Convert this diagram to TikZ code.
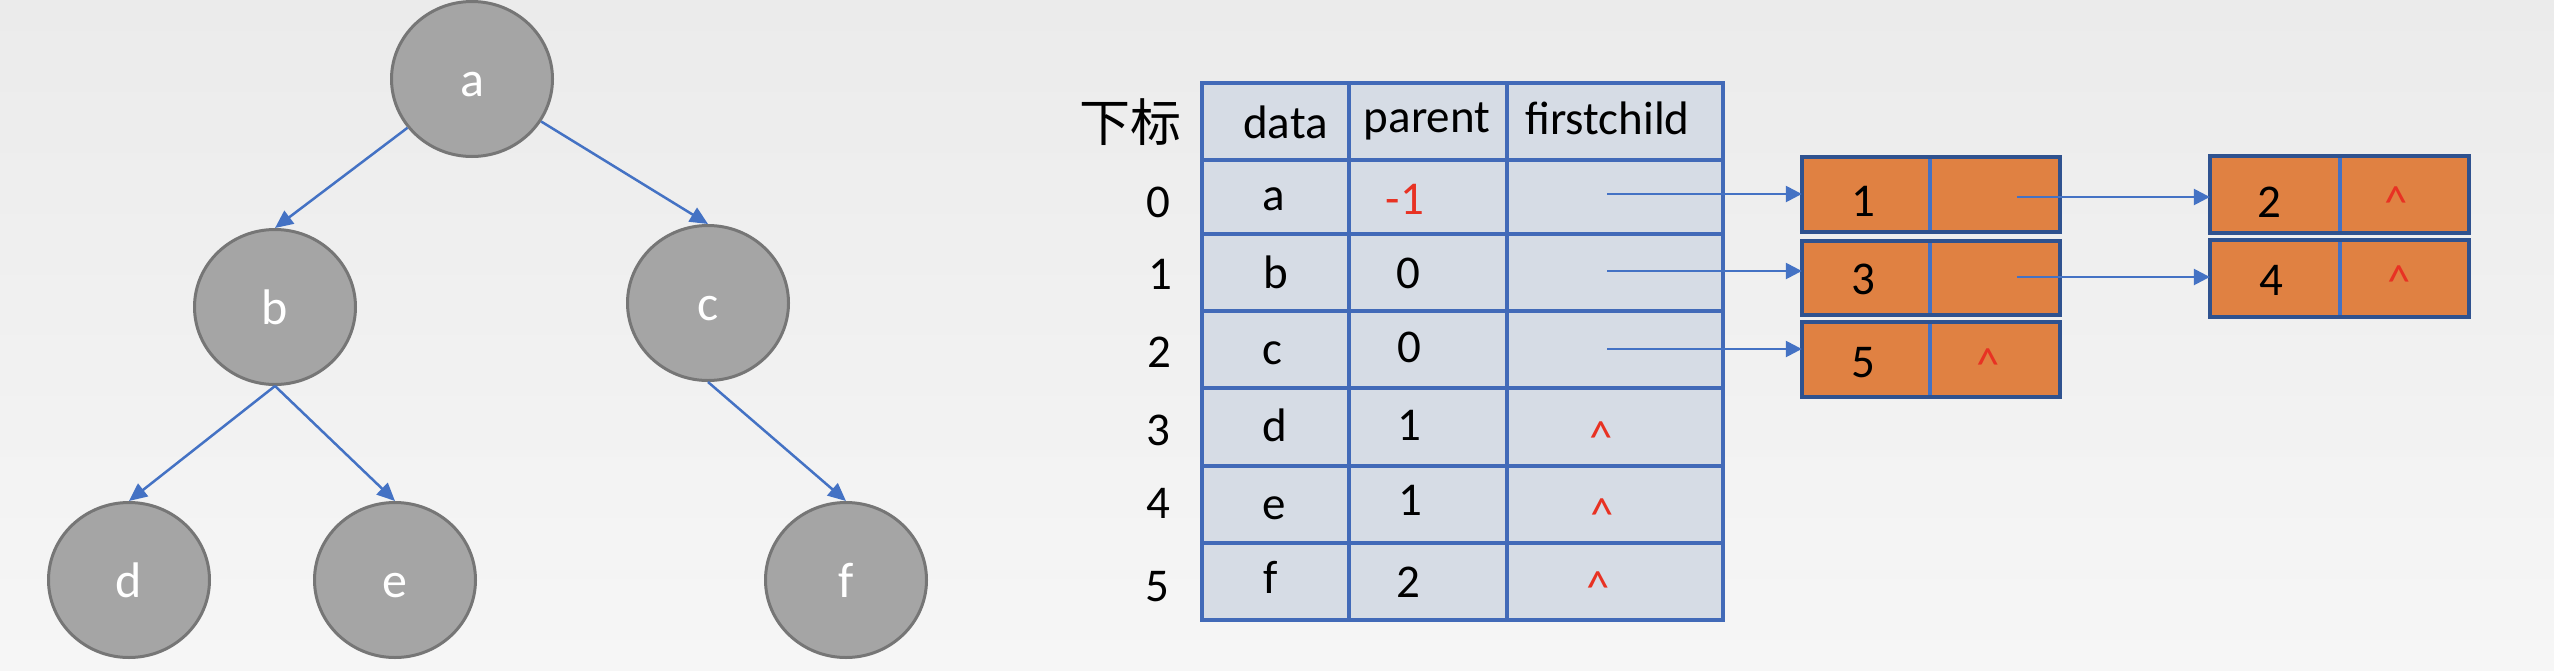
\documentclass[tikz,border=0pt]{standalone}
\usepackage{fontspec}
\setmainfont{Carlito}
\newfontfamily\cjk{Noto Sans CJK SC}
\usetikzlibrary{arrows.meta,shapes.geometric}

\definecolor{bgtop}{RGB}{235,235,235}
\definecolor{bgbot}{RGB}{246,246,246}
\definecolor{nodefill}{RGB}{165,165,165}
\definecolor{nodeline}{RGB}{118,118,118}
\definecolor{arrowblue}{RGB}{68,114,196}
\definecolor{cellfill}{RGB}{214,220,229}
\definecolor{gridblue}{RGB}{66,106,184}
\definecolor{boxorange}{RGB}{224,129,66}
\definecolor{boxline}{RGB}{47,82,143}
\definecolor{caretred}{RGB}{232,50,35}

\begin{document}
\begin{tikzpicture}[x=1pt,y=-1pt,
  treenode/.style={ellipse, draw=nodeline, line width=3pt, fill=nodefill,
    minimum width=161pt, minimum height=155pt, inner sep=0pt, text=white,
    font=\fontsize{50}{60}\selectfont, text height=35pt, text depth=0pt},
  treearrow/.style={draw=arrowblue, line width=2.5pt, -{Triangle[length=18pt,width=16pt]}},
  linkarrow/.style={draw=arrowblue, line width=2.5pt, -{Triangle[length=16pt,width=16pt]}},
  cell/.style={draw=gridblue, line width=4.5pt, fill=cellfill, inner sep=0pt},
  boxcell/.style={fill=boxorange, inner sep=0pt},
  boxborder/.style={draw=boxline, line width=4pt},
  boxsplit/.style={draw=arrowblue, line width=4.5pt},
  tx/.style={inner sep=0pt, anchor=base, font=\fontsize{47}{56}\selectfont},
  redtx/.style={tx, text=caretred},
  cjktx/.style={inner sep=0pt, anchor=base, font=\cjk\fontsize{51}{60}\selectfont}
]
% background
\shade[top color=bgtop, bottom color=bgbot] (0,0) rectangle (2554,670);
\useasboundingbox (0,0) rectangle (2554,670);

% ---------- tree ----------
\node[treenode] (na) at (472,79) {a};
\node[treenode] (nb) at (275,307) {b};
\node[treenode] (nc) at (708,303) {c};
\node[treenode] (nd) at (129,580) {d};
\node[treenode] (ne) at (395,580) {e};
\node[treenode] (nf) at (846,580) {f};
\draw[treearrow] (na) -- (nb.north);
\draw[treearrow] (na) -- (nc.north);
\draw[treearrow] (nb.south) -- (nd.north);
\draw[treearrow] (nb.south) -- (ne.north);
\draw[treearrow] (nc.south) -- (nf.north);

% ---------- table ----------
\node[cell, minimum width=147pt, minimum height=77pt] (ch1) at (1275.5,121.5) {};
\node[cell, minimum width=158pt, minimum height=77pt] (ch2) at (1428,121.5) {};
\node[cell, minimum width=216pt, minimum height=77pt] (ch3) at (1615,121.5) {};
\node[cell, minimum width=147pt, minimum height=74pt] (c01) at (1275.5,197) {};
\node[cell, minimum width=158pt, minimum height=74pt] (c02) at (1428,197) {};
\node[cell, minimum width=216pt, minimum height=74pt] (c03) at (1615,197) {};
\node[cell, minimum width=147pt, minimum height=77pt] (c11) at (1275.5,272.5) {};
\node[cell, minimum width=158pt, minimum height=77pt] (c12) at (1428,272.5) {};
\node[cell, minimum width=216pt, minimum height=77pt] (c13) at (1615,272.5) {};
\node[cell, minimum width=147pt, minimum height=77pt] (c21) at (1275.5,349.5) {};
\node[cell, minimum width=158pt, minimum height=77pt] (c22) at (1428,349.5) {};
\node[cell, minimum width=216pt, minimum height=77pt] (c23) at (1615,349.5) {};
\node[cell, minimum width=147pt, minimum height=78pt] (c31) at (1275.5,427) {};
\node[cell, minimum width=158pt, minimum height=78pt] (c32) at (1428,427) {};
\node[cell, minimum width=216pt, minimum height=78pt] (c33) at (1615,427) {};
\node[cell, minimum width=147pt, minimum height=77pt] (c41) at (1275.5,504.5) {};
\node[cell, minimum width=158pt, minimum height=77pt] (c42) at (1428,504.5) {};
\node[cell, minimum width=216pt, minimum height=77pt] (c43) at (1615,504.5) {};
\node[cell, minimum width=147pt, minimum height=77pt] (c51) at (1275.5,581.5) {};
\node[cell, minimum width=158pt, minimum height=77pt] (c52) at (1428,581.5) {};
\node[cell, minimum width=216pt, minimum height=77pt] (c53) at (1615,581.5) {};

% header texts
\node[cjktx] (hidx) at (1130.5,141) {下标};
\node[tx] (hdata) at (1285.5,138) {data};
\node[tx] (hparent) at (1427,132) {parent};
\node[tx] (hfirst) at (1607.5,134) {firstchild};

% index column
\node[tx] (i0) at (1158,217) {0};
\node[tx] (i1) at (1160,289) {1};
\node[tx] (i2) at (1159,367) {2};
\node[tx] (i3) at (1158,445) {3};
\node[tx] (i4) at (1158,518) {4};
\node[tx] (i5) at (1157,601) {5};

% data column
\node[tx] (d0) at (1274,210) {a};
\node[tx] (d1) at (1276,288) {b};
\node[tx] (d2) at (1272,364) {c};
\node[tx] (d3) at (1275,441) {d};
\node[tx] (d4) at (1274,519) {e};
\node[tx] (d5) at (1271,593) {f};

% parent column
\node[redtx] (p0t) at (1405,214) {-1};
\node[tx] (p1t) at (1408,288) {0};
\node[tx] (p2t) at (1409,362) {0};
\node[tx] (p3t) at (1409,440) {1};
\node[tx] (p4t) at (1410,515) {1};
\node[tx] (p5t) at (1408,597) {2};

% firstchild nulls
\node[redtx] (f3) at (1601,453) {\textasciicircum};
\node[redtx] (f4) at (1602,530) {\textasciicircum};
\node[redtx] (f5) at (1598,603) {\textasciicircum};

% ---------- child lists ----------
\node[boxcell, minimum width=128pt, minimum height=75pt] (b1L) at (1866,194.5) {};
\node[boxcell, minimum width=130pt, minimum height=75pt] (b1R) at (1995,194.5) {};
\node[boxcell, minimum width=128pt, minimum height=74pt] (b3L) at (1866,278) {};
\node[boxcell, minimum width=130pt, minimum height=74pt] (b3R) at (1995,278) {};
\node[boxcell, minimum width=128pt, minimum height=75pt] (b5L) at (1866,359.5) {};
\node[boxcell, minimum width=130pt, minimum height=75pt] (b5R) at (1995,359.5) {};
\node[boxcell, minimum width=130pt, minimum height=77pt] (r2L) at (2275,194.5) {};
\node[boxcell, minimum width=129pt, minimum height=77pt] (r2R) at (2404.5,194.5) {};
\node[boxcell, minimum width=130pt, minimum height=77pt] (r4L) at (2275,278.5) {};
\node[boxcell, minimum width=129pt, minimum height=77pt] (r4R) at (2404.5,278.5) {};

\foreach \bx in {b1,b3,b5,r2,r4}{
  \draw[boxsplit] (\bx L.north east) -- (\bx L.south east);
  \draw[boxborder] (\bx L.north west) rectangle (\bx R.south east);
}

\node[tx] (t1) at (1863,216) {1};
\node[tx] (t3) at (1863,294) {3};
\node[tx] (t5) at (1863,377) {5};
\node[redtx] (t5n) at (1988,380) {\textasciicircum};
\node[tx] (t2) at (2269,217) {2};
\node[tx] (t4) at (2271,295) {4};
\node[redtx] (t2n) at (2396,218) {\textasciicircum};
\node[redtx] (t4n) at (2399,297) {\textasciicircum};

% ---------- pointers ----------
\coordinate (s0) at (1607,194);
\coordinate (s1) at (1607,271);
\coordinate (s2) at (1607,349);
\coordinate (q1) at (2017,197);
\coordinate (q3) at (2017,277);
\draw[linkarrow] (s0) -- (s0 -| b1L.west);
\draw[linkarrow] (s1) -- (s1 -| b3L.west);
\draw[linkarrow] (s2) -- (s2 -| b5L.west);
\draw[linkarrow] (q1) -- (q1 -| r2L.west);
\draw[linkarrow] (q3) -- (q3 -| r4L.west);
\end{tikzpicture}
\end{document}
